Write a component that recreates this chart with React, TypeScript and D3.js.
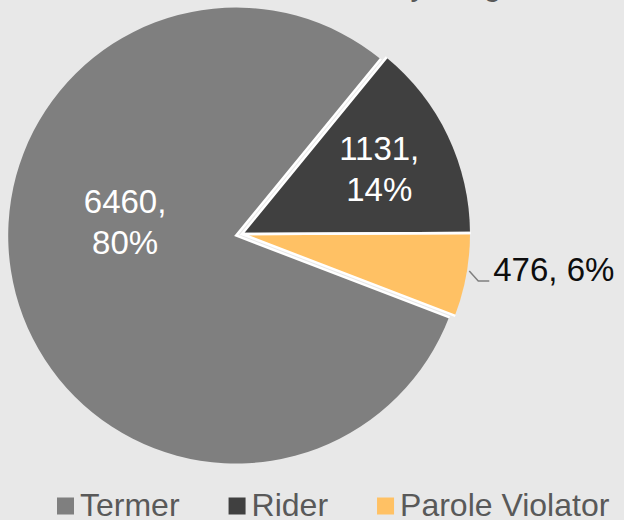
import React from "react";
import * as d3 from "d3";

// ---- data ----
const categories: string[] = ["Termer", "Rider", "Parole Violator"];
const values: number[] = [6460, 1131, 476];
const colors: string[] = ["#7f7f7f", "#404040", "#ffc164"];
const titleText = "Admissions by Stage";

// ---- layout ----
const W = 624;
const H = 520;
const CX = 242;
const CY = 234;
const R = 228;
const FIRST_ANGLE_DEG = 111;
const explode = [6, 0, 0];
const labelMode = ["in", "in", "out"];
const labelAngleDeg: (number | null)[] = [277.2, null, null];
const labelRadius = [112, 152, 0];
const FONT = "'Liberation Sans', Arial, sans-serif";
const LABEL_SIZE = 33;
const LEGEND_SIZE = 32;

function measure(text: string, size: number): number {
  const c = document.createElement("canvas");
  const ctx = c.getContext("2d");
  if (!ctx) return text.length * size * 0.55;
  ctx.font = `${size}px "Liberation Sans"`;
  return ctx.measureText(text).width;
}

export default function App() {
  const total = d3.sum(values);
  const start = (FIRST_ANGLE_DEG * Math.PI) / 180;
  const pie = d3
    .pie<number>()
    .sort(null)
    .startAngle(start)
    .endAngle(start + 2 * Math.PI);
  const arcs = pie(values);
  const arcGen = d3.arc<d3.PieArcDatum<number>>().innerRadius(0).outerRadius(R);

  const polar = (a: number, r: number) => [Math.sin(a) * r, -Math.cos(a) * r];

  const sq = 17;
  const gapSq = 6;
  const gapItem = 49;
  let lx = 57;
  const legendItems = categories.map((c, i) => {
    const item = { x: lx, label: c, color: colors[i] };
    lx += sq + gapSq + measure(c, LEGEND_SIZE) + gapItem;
    return item;
  });

  const offsets = arcs.map((a, i) => polar((a.startAngle + a.endAngle) / 2, explode[i]));

  return (
    <svg
      width={W}
      height={H}
      style={{ position: "absolute", left: 0, top: 0, fontFamily: FONT }}
    >
      <rect x={0} y={0} width={W} height={H} fill="#e8e8e8" />
      <text x={519} y={-5} textAnchor="end" fontSize={32} fill="#595959">
        {titleText}
      </text>
      {arcs.map((a, i) => (
        <path
          key={categories[i]}
          d={arcGen(a) || ""}
          transform={`translate(${CX + offsets[i][0]},${CY + offsets[i][1]})`}
          fill={colors[i]}
        />
      ))}
      {arcs.map((a, i) => {
        const ox = CX + offsets[i][0];
        const oy = CY + offsets[i][1];
        const [ax, ay] = polar(a.startAngle, R + 0.5);
        const [bx, by] = polar(a.endAngle, R + 0.5);
        return (
          <path
            key={"e" + i}
            d={`M${ox + ax},${oy + ay}L${ox},${oy}L${ox + bx},${oy + by}`}
            fill="none"
            stroke="#ffffff"
            strokeWidth={2.5}
            strokeLinejoin="miter"
          />
        );
      })}
      {arcs.map((a, i) => {
        const mid = (a.startAngle + a.endAngle) / 2;
        const [ox, oy] = offsets[i];
        const pct = Math.round((values[i] / total) * 100);
        if (labelMode[i] === "in") {
          const ang =
            labelAngleDeg[i] != null ? ((labelAngleDeg[i] as number) * Math.PI) / 180 : mid;
          const [lx2, ly2] = polar(ang, labelRadius[i]);
          const x = CX + ox + lx2;
          const y = CY + oy + ly2;
          return (
            <text key={"l" + i} textAnchor="middle" fontSize={LABEL_SIZE} fill="#ffffff">
              <tspan x={x} y={y - 8.7}>{`${values[i]},`}</tspan>
              <tspan x={x} y={y - 8.7 + 41}>{`${pct}%`}</tspan>
            </text>
          );
        }
        const [sx, sy] = polar(mid, R);
        const p0x = CX + ox + sx + 3;
        const p0y = CY + oy + sy - 4;
        const elbowX = p0x + 9;
        const elbowY = p0y + 10;
        const endX = elbowX + 11;
        return (
          <g key={"l" + i}>
            <polyline
              points={`${p0x},${p0y} ${elbowX},${elbowY} ${endX},${elbowY}`}
              fill="none"
              stroke="#7f7f7f"
              strokeWidth={1.5}
            />
            <text x={endX + 4} y={elbowY} fontSize={LABEL_SIZE} fill="#0d0d0d">
              {`${values[i]}, ${pct}%`}
            </text>
          </g>
        );
      })}
      {legendItems.map((it) => (
        <g key={"lg" + it.label}>
          <rect x={it.x} y={497.5} width={sq} height={sq} fill={it.color} />
          <text x={it.x + sq + gapSq} y={516} fontSize={LEGEND_SIZE} fill="#595959">
            {it.label}
          </text>
        </g>
      ))}
    </svg>
  );
}
